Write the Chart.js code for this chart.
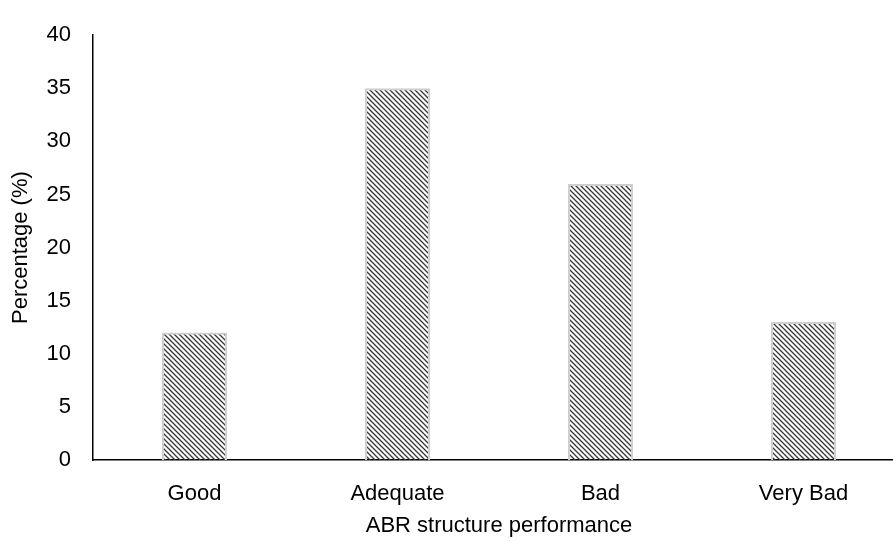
<!DOCTYPE html>
<html lang="en">
<head>
    <meta charset="UTF-8">
    <title>ABR structure performance</title>
    <script src="https://cdn.jsdelivr.net/npm/chart.js"></script>
    <style>
        html, body { margin: 0; padding: 0; background: #fff; overflow: hidden; }
        /* o eixo x passa da borda direita no original */
        .grafico { width: 905px; height: 541px; }
    </style>
</head>
<body>
    <div class="grafico">
        <canvas id="myChart"></canvas>
    </div>

<script>
    // dados
    var categorias = ['Good', 'Adequate', 'Bad', 'Very Bad'];
    var percentagens = [12, 35, 26, 13];
    var ticks_y = [0, 5, 10, 15, 20, 25, 30, 35, 40];

    var fonte = "'Liberation Sans', Arial, sans-serif";

    // hachura diagonal (cima-esquerda para baixo-direita)
    function hachura() {
        var c = document.createElement('canvas');
        c.width = 5;
        c.height = 5;
        var g = c.getContext('2d');
        g.strokeStyle = '#383838';
        g.lineWidth = 1.3;
        g.beginPath();
        g.moveTo(-1, -1); g.lineTo(6, 6);
        g.moveTo(-1, 4); g.lineTo(2, 7);
        g.moveTo(4, -1); g.lineTo(7, 2);
        g.stroke();
        return g.createPattern(c, 'repeat');
    }

    const ctx = document.getElementById('myChart');

    new Chart(ctx, {
        type: 'bar',
        data: {
            labels: categorias,
            datasets: [{
                data: percentagens,
                backgroundColor: hachura(),
                borderColor: '#cfcfcf',
                borderWidth: 2,
                barPercentage: 0.32,
                categoryPercentage: 1
            }]
        },
        options: {
            responsive: true,
            maintainAspectRatio: false,
            animation: false,
            layout: {
                padding: { top: 27, right: 0, bottom: 0, left: 0 }
            },
            scales: {
                y: {
                    min: 0,
                    max: 40,
                    afterBuildTicks: function (eixo) {
                        eixo.ticks = ticks_y.map(function (v) { return { value: v }; });
                    },
                    afterFit: function (eixo) { eixo.width = 93; },
                    grid: { display: false, drawTicks: false },
                    border: { display: true, color: '#000', width: 1.5 },
                    ticks: {
                        color: '#000',
                        padding: 22,
                        font: { family: fonte, size: 22 }
                    },
                    title: {
                        display: true,
                        text: 'Percentage (%)',
                        color: '#000',
                        padding: { top: 8, bottom: 0 },
                        font: { family: fonte, size: 22 }
                    }
                },
                x: {
                    afterFit: function (eixo) { eixo.height = 81; },
                    grid: { display: false, drawTicks: false },
                    border: { display: true, color: '#000', width: 1.5 },
                    ticks: {
                        color: '#000',
                        padding: 21,
                        font: { family: fonte, size: 22 }
                    },
                    title: {
                        display: true,
                        text: 'ABR structure performance',
                        color: '#000',
                        padding: { top: 4, bottom: 2 },
                        font: { family: fonte, size: 22 }
                    }
                }
            },
            plugins: {
                legend: { display: false },
                tooltip: { enabled: false }
            }
        }
    });
</script>
</body>
</html>
